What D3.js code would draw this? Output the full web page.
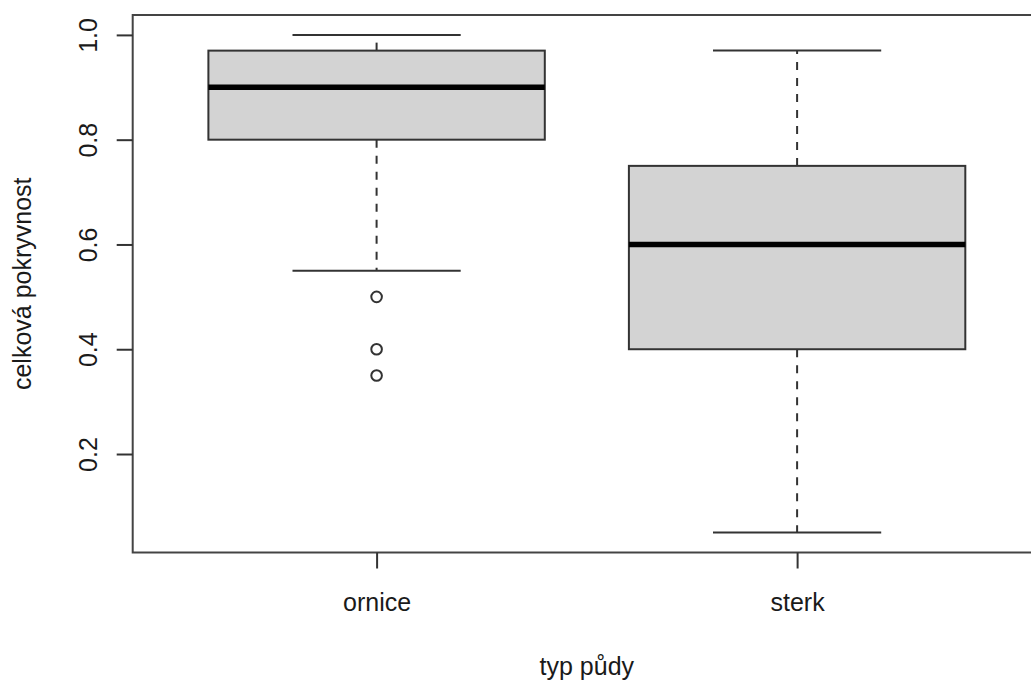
<!DOCTYPE html>
<html>
<head>
<meta charset="utf-8">
<script src="https://cdn.jsdelivr.net/npm/d3@7"></script>
<style>
  html, body { margin: 0; padding: 0; background: #fff; }
  svg { display: block; font-family: Arial, "Liberation Sans", sans-serif; }
</style>
</head>
<body>
<svg id="chart" width="1031" height="682"></svg>
<script>
// soil types and their box statistics
const categories = ['ornice', 'sterk'];
const whiskerLow = [0.55, 0.05];
const q1 = [0.80, 0.40];
const medians = [0.90, 0.60];
const q3 = [0.97, 0.75];
const whiskerHigh = [1.00, 0.97];
const outliers = [
  { cat: 'ornice', value: 0.50 },
  { cat: 'ornice', value: 0.40 },
  { cat: 'ornice', value: 0.35 }
];
const yTicks = [0.2, 0.4, 0.6, 0.8, 1.0];
const xTitle = 'typ půdy';
const yTitle = 'celková pokryvnost';

const svg = d3.select('#chart');
const fontSize = 25;
const ink = '#1a1a1a';

// plot region (R pads both axes by 4%; right edge runs past the image)
const plotLeft = 132.7, plotRight = 1041, plotTop = 15, plotBottom = 552.5;

const x = d3.scaleLinear().domain([0.42, 2.58]).range([plotLeft, plotRight]);
const y = d3.scaleLinear().domain([0.012, 1.038]).range([plotBottom, plotTop]);
const pos = c => x(categories.indexOf(c) + 1);
const boxHalf = x(1.4) - x(1);     // boxwex 0.8
const stapleHalf = x(1.2) - x(1);  // staple half as wide

// boxes
const boxes = svg.append('g').selectAll('g.box')
  .data(categories.map((c, i) => ({
    cat: c, lo: whiskerLow[i], q1: q1[i], med: medians[i], q3: q3[i], hi: whiskerHigh[i]
  })))
  .join('g')
  .attr('class', 'box');

// whiskers (dashed)
boxes.append('line')
  .attr('x1', d => pos(d.cat)).attr('x2', d => pos(d.cat))
  .attr('y1', d => y(d.q3)).attr('y2', d => y(d.hi))
  .attr('stroke', '#333').attr('stroke-width', 2).attr('stroke-dasharray', '8,8');
boxes.append('line')
  .attr('x1', d => pos(d.cat)).attr('x2', d => pos(d.cat))
  .attr('y1', d => y(d.q1)).attr('y2', d => y(d.lo))
  .attr('stroke', '#333').attr('stroke-width', 2).attr('stroke-dasharray', '8,8');

// staples
['lo', 'hi'].forEach(k => {
  boxes.append('line')
    .attr('x1', d => pos(d.cat) - stapleHalf).attr('x2', d => pos(d.cat) + stapleHalf)
    .attr('y1', d => y(d[k])).attr('y2', d => y(d[k]))
    .attr('stroke', '#333').attr('stroke-width', 2);
});

// box body
boxes.append('rect')
  .attr('x', d => pos(d.cat) - boxHalf)
  .attr('width', boxHalf * 2)
  .attr('y', d => y(d.q3))
  .attr('height', d => y(d.q1) - y(d.q3))
  .attr('fill', '#d3d3d3')
  .attr('stroke', '#333')
  .attr('stroke-width', 2);

// median
boxes.append('line')
  .attr('x1', d => pos(d.cat) - boxHalf).attr('x2', d => pos(d.cat) + boxHalf)
  .attr('y1', d => y(d.med)).attr('y2', d => y(d.med))
  .attr('stroke', '#000').attr('stroke-width', 5.5);

// outliers
svg.append('g').selectAll('circle')
  .data(outliers)
  .join('circle')
  .attr('cx', d => pos(d.cat))
  .attr('cy', d => y(d.value))
  .attr('r', 5.3)
  .attr('fill', 'none')
  .attr('stroke', '#333')
  .attr('stroke-width', 2);

// frame
svg.append('rect')
  .attr('x', plotLeft).attr('y', plotTop)
  .attr('width', plotRight - plotLeft).attr('height', plotBottom - plotTop)
  .attr('fill', 'none').attr('stroke', '#444').attr('stroke-width', 2);

// y axis
const yAxis = svg.append('g')
  .attr('transform', `translate(${plotLeft},0)`)
  .call(d3.axisLeft(y).tickValues(yTicks).tickSize(16).tickFormat(d3.format('.1f')));
yAxis.select('.domain').remove();
yAxis.selectAll('line').attr('stroke', '#333').attr('stroke-width', 2);
yAxis.selectAll('text')
  .attr('x', null).attr('dy', null)
  .attr('transform', 'rotate(-90)')
  .attr('y', -35.5)
  .attr('text-anchor', 'middle')
  .attr('font-size', fontSize)
  .attr('font-family', 'Arial, "Liberation Sans", sans-serif')
  .attr('fill', ink);

// x axis
const xAxis = svg.append('g')
  .attr('transform', `translate(0,${plotBottom})`)
  .call(d3.axisBottom(x).tickValues(categories.map((c, i) => i + 1))
    .tickSize(16).tickFormat(v => categories[v - 1]));
xAxis.select('.domain').remove();
xAxis.selectAll('line').attr('stroke', '#333').attr('stroke-width', 2);
xAxis.selectAll('text')
  .attr('dy', null)
  .attr('y', 58)
  .attr('font-size', fontSize)
  .attr('font-family', 'Arial, "Liberation Sans", sans-serif')
  .attr('fill', ink);

// titles
svg.append('text')
  .attr('x', (plotLeft + plotRight) / 2)
  .attr('y', 675)
  .attr('text-anchor', 'middle')
  .attr('font-size', fontSize)
  .attr('fill', ink)
  .text(xTitle);

svg.append('text')
  .attr('transform', `translate(31,${(plotTop + plotBottom) / 2}) rotate(-90)`)
  .attr('text-anchor', 'middle')
  .attr('font-size', fontSize)
  .attr('fill', ink)
  .text(yTitle);
</script>
</body>
</html>
